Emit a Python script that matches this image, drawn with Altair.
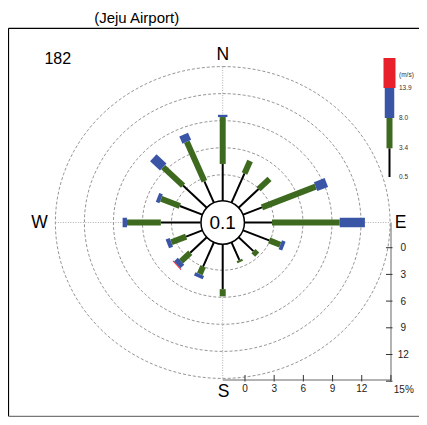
import math
import altair as alt
import pandas as pd

# ---------------- data ----------------
directions = ["N", "NNE", "NE", "ENE", "E", "ESE", "SE", "SSE",
              "S", "SSW", "SW", "WSW", "W", "WNW", "NW", "NNW"]
# frequency (%) per speed class, stacked outward from the calm circle
spd_05_34 = [4.2, 3.6, 2.95, 2.1, 2.8, 2.9, 2.2, 2.2, 5.1, 3.0, 2.45, 1.8, 4.1, 2.5, 3.5, 2.65]
spd_34_80 = [5.2, 1.5, 1.6, 6.0, 7.0, 1.25, 0.55, 0.25, 0.8, 0.9, 1.35, 1.65, 3.5, 2.1, 2.9, 4.75]
spd_80_139 = [0.25, 0.0, 0.0, 1.2, 2.6, 0.4, 0.0, 0.0, 0.0, 0.4, 0.55, 0.45, 0.45, 0.4, 1.45, 0.85]
spd_139_up = [0.0, 0.0, 0.0, 0.0, 0.0, 0.0, 0.0, 0.0, 0.0, 0.0, 0.1, 0.0, 0.0, 0.0, 0.0, 0.0]
classes = ["0.5-3.4", "3.4-8.0", "8.0-13.9", ">13.9"]
legend_bounds = ["0.5", "3.4", "8.0", "13.9"]
legend_unit = "(m/s)"
calm_text = "0.1"
station = "182"
title_text = "(Jeju Airport)"
ring_pcts = [3, 6, 9, 12, 15]
tick_vals = [0, 3, 6, 9, 12, 15]
compass = ["N", "E", "S", "W"]

# ---------------- styling / geometry ----------------
cls_color = {"0.5-3.4": "#000000", "3.4-8.0": "#3d6a1f", "8.0-13.9": "#3a55a6", ">13.9": "#e8202b"}
cls_width = {"0.5-3.4": 2, "3.4-8.0": 6, "8.0-13.9": 9.5, ">13.9": 12}
FONT = "Liberation Sans"

W, H = 411, 409
KX, KY = 9.68, 9.02          # px per % unit (horizontal / vertical)
CX, CY = 222.7 - 8, 222.5 - 8
CALM = 2.29                  # calm-circle radius in % units


def ux(px):
    return (px - 8 - CX) / KX


def uy(py):
    return (CY - (py - 8)) / KY


xs = alt.Scale(domain=[-CX / KX, (W - CX) / KX], nice=False, zero=False)
ys = alt.Scale(domain=[-(H - CY) / KY, CY / KY], nice=False, zero=False)
X = lambda f: alt.X(f, type="quantitative", scale=xs, axis=None)
Y = lambda f: alt.Y(f, type="quantitative", scale=ys, axis=None)

# ---------------- bars ----------------
rows = []
series = [spd_05_34, spd_34_80, spd_80_139, spd_139_up]
for i, d in enumerate(directions):
    th = math.radians(22.5 * i)
    r0 = CALM
    for cls, vals in zip(classes, series):
        v = vals[i]
        if v <= 0:
            continue
        r1 = r0 + v
        rows.append(dict(dir=d, cls=cls, x=r0 * math.sin(th), y=r0 * math.cos(th),
                         x2=r1 * math.sin(th), y2=r1 * math.cos(th)))
        r0 = r1
bars = pd.DataFrame(rows)

bar_layers = []
for cls in classes:
    sub = bars[bars.cls == cls]
    if len(sub) == 0:
        continue
    bar_layers.append(
        alt.Chart(sub).mark_rule(strokeCap="butt", color=cls_color[cls],
                                 strokeWidth=cls_width[cls])
        .encode(x=X("x"), y=Y("y"), x2="x2", y2="y2")
    )

# ---------------- rings & crosshair ----------------
ring_rows = []
for p in ring_pcts:
    r = CALM + p
    for k in range(0, 361, 3):
        a = math.radians(k)
        ring_rows.append(dict(ring=p, k=k, x=r * math.sin(a), y=r * math.cos(a)))
rings = alt.Chart(pd.DataFrame(ring_rows)).mark_line(
    color="#7a7a7a", strokeWidth=0.8, strokeDash=[3, 2]
).encode(x=X("x"), y=Y("y"), detail="ring:N", order="k:Q")

R = CALM + max(ring_pcts)
cross = alt.Chart(pd.DataFrame([
    dict(x=-R, y=0, x2=R, y2=0), dict(x=0, y=-R, x2=0, y2=R)
])).mark_rule(color="#9a9a9a", strokeWidth=0.8, strokeDash=[1, 1.5]).encode(
    x=X("x"), y=Y("y"), x2="x2", y2="y2")

# ---------------- calm circle ----------------
calm = alt.Chart(pd.DataFrame([dict(x=0, y=0, t=calm_text)]))
calm_circle = calm.mark_point(shape="circle", filled=True, fill="white", stroke="black",
                              strokeWidth=1.5, size=1890, opacity=1).encode(x=X("x"), y=Y("y"))
calm_label = calm.mark_text(font=FONT, fontSize=19, baseline="middle", align="center",
                            color="black").encode(x=X("x"), y=Y("y"), text="t:N")

# ---------------- compass letters ----------------
comp_pos = {"N": (222.8, 60), "E": (400.5, 228.3), "S": (223.5, 396.5), "W": (39.5, 228.3)}
comp = alt.Chart(pd.DataFrame([dict(t=c, x=ux(comp_pos[c][0]), y=uy(comp_pos[c][1]))
                               for c in compass])).mark_text(
    font=FONT, fontSize=17.5, align="center", baseline="alphabetic", color="black"
).encode(x=X("x"), y=Y("y"), text="t:N")

# ---------------- annotations ----------------
ann = alt.Chart(pd.DataFrame([
    dict(t=station, x=ux(57.8), y=uy(64), s=16),
    dict(t=title_text, x=ux(136.7), y=uy(23), s=15),
])).mark_text(font=FONT, align="center", baseline="alphabetic", color="black").encode(
    x=X("x"), y=Y("y"), text="t:N", size=alt.Size("s:Q", scale=None))

# frame (top, left black; bottom gray)
frame = alt.Chart(pd.DataFrame([
    dict(x=ux(8.5), y=uy(28.3), x2=ux(430), y2=uy(28.3), c="#000000"),
    dict(x=ux(8.5), y=uy(28.3), x2=ux(8.5), y2=uy(416.3), c="#000000"),
    dict(x=ux(8.5), y=uy(416.3), x2=ux(430), y2=uy(416.3), c="#777777"),
])).mark_rule(strokeWidth=1.2).encode(x=X("x"), y=Y("y"), x2="x2", y2="y2",
                                      color=alt.Color("c:N", scale=None))

# ---------------- distance axes ----------------
AX_Y = uy(380)          # bottom axis line
AX_X = ux(391)          # right axis line
bx = lambda p: (CALM + p) * (9.73 / KX)          # bottom tick positions
ry = lambda p: -(25.2 + 8.9 * p) / KY            # right tick positions
axis_lines = alt.Chart(pd.DataFrame([
    dict(x=0, y=AX_Y, x2=AX_X, y2=AX_Y),
    dict(x=AX_X, y=uy(222.5), x2=AX_X, y2=AX_Y),
])).mark_rule(color="#666666", strokeWidth=1).encode(x=X("x"), y=Y("y"), x2="x2", y2="y2")

bt = pd.DataFrame([dict(v=v, x=bx(v), y=AX_Y + 5 / KY, y2=AX_Y - 1.5 / KY) for v in tick_vals])
rt = pd.DataFrame([dict(v=v, y=ry(v), x=AX_X - 5 / KX, x2=AX_X + 1.5 / KX) for v in tick_vals])
bticks = alt.Chart(bt).mark_rule(color="#333333", strokeWidth=1).encode(
    x=X("x"), y=Y("y"), y2="y2")
rticks = alt.Chart(rt).mark_rule(color="#333333", strokeWidth=1).encode(
    x=X("x"), x2="x2", y=Y("y"))

bl = pd.DataFrame([dict(t=str(v), x=bx(v), y=uy(392)) for v in tick_vals if v != 15])
rl = pd.DataFrame([dict(t=str(v), x=ux(403.3), y=ry(v) - 3.6 / KY) for v in tick_vals if v != 15]
                  + [dict(t="15%", x=ux(403.8), y=uy(393))])
blab = alt.Chart(bl).mark_text(font=FONT, fontSize=10, align="center", baseline="alphabetic",
                               color="#222222").encode(x=X("x"), y=Y("y"), text="t:N")
rlab = alt.Chart(rl).mark_text(font=FONT, fontSize=10, align="center", baseline="alphabetic",
                               color="#222222").encode(x=X("x"), y=Y("y"), text="t:N")

# ---------------- speed legend ----------------
leg_top = [148.3, 118.0, 88.0, 58.0]
leg_bot = [177.0, 148.3, 118.0, 88.0]
leg_layers = []
for i, cls in enumerate(classes):
    leg_layers.append(
        alt.Chart(pd.DataFrame([dict(x=ux(389.5), y=uy(leg_bot[i]), y2=uy(leg_top[i]))]))
        .mark_rule(strokeCap="butt", color=cls_color[cls], strokeWidth=cls_width[cls])
        .encode(x=X("x"), y=Y("y"), y2="y2")
    )
leg_text = alt.Chart(pd.DataFrame(
    [dict(t=legend_bounds[i], x=ux(399), y=uy(leg_bot[i])) for i in range(4)]
    + [dict(t=legend_unit, x=ux(399), y=uy(75))]
)).mark_text(font=FONT, fontSize=6.5, align="left", baseline="middle", color="#333333").encode(
    x=X("x"), y=Y("y"), text="t:N")

chart = alt.layer(
    frame, cross, rings, *bar_layers, calm_circle, calm_label, comp, ann,
    axis_lines, bticks, rticks, blab, rlab, *leg_layers, leg_text
).properties(
    width=W, height=H, padding=0, autosize=alt.AutoSizeParams(type="none")
).configure_view(stroke=None)

chart.save("out.html", embed_options={"renderer": "svg", "actions": False})
